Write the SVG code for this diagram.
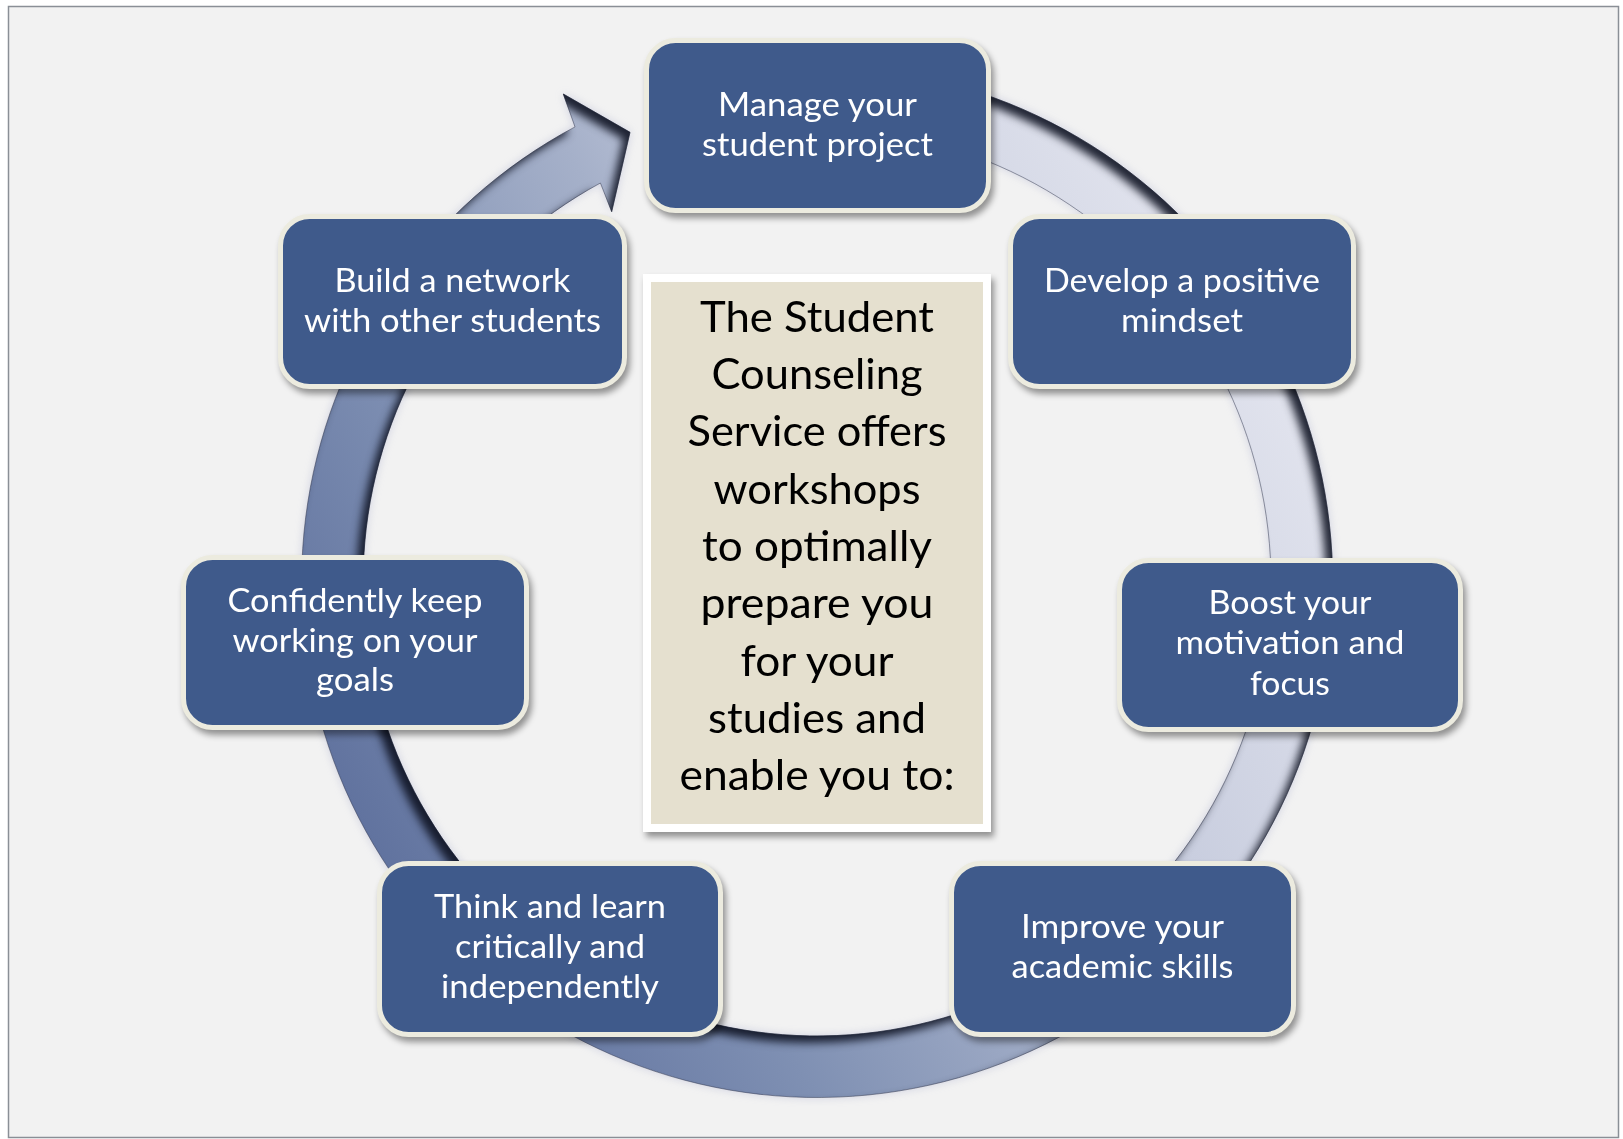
<svg xmlns="http://www.w3.org/2000/svg" width="1623" height="1139" viewBox="0 0 1623 1139">
<defs>
<style>
.node rect{fill:#3f5a8b;stroke:#ecebdf;stroke-width:5}
.lbl{font-family:Lato,"Open Sans","Liberation Sans",sans-serif;font-size:33px;fill:#ffffff;text-anchor:middle}
.ctr{font-family:Lato,"Open Sans","Liberation Sans",sans-serif;font-size:42px;fill:#000000;text-anchor:middle}
</style>
<linearGradient id="ringGrad" gradientUnits="userSpaceOnUse" x1="371" y1="840" x2="1263" y2="324">
<stop offset="0" stop-color="#61739f"/>
<stop offset="0.25" stop-color="#7f90b3"/>
<stop offset="0.5" stop-color="#a5b0c9"/>
<stop offset="0.68" stop-color="#c9cedf"/>
<stop offset="1" stop-color="#e2e4ee"/>
</linearGradient>
<filter id="ringFx" x="-10%" y="-10%" width="120%" height="120%" color-interpolation-filters="sRGB">
<feGaussianBlur in="SourceAlpha" stdDeviation="4" result="glowBlur"/>
<feFlood flood-color="#8c92c0" flood-opacity="0.35"/>
<feComposite in2="glowBlur" operator="in" result="glow"/>
<feOffset in="SourceAlpha" dx="-7" dy="7" result="off"/>
<feGaussianBlur in="off" stdDeviation="4" result="offBlur"/>
<feComposite in="SourceAlpha" in2="offBlur" operator="out" result="edge"/>
<feFlood flood-color="#0e1322" flood-opacity="0.9"/>
<feComposite in2="edge" operator="in" result="inner"/>
<feMerge><feMergeNode in="glow"/><feMergeNode in="SourceGraphic"/><feMergeNode in="inner"/></feMerge>
</filter>
<filter id="boxShadow" x="-10%" y="-10%" width="125%" height="130%" color-interpolation-filters="sRGB">
<feGaussianBlur in="SourceAlpha" stdDeviation="3"/>
<feOffset dx="3" dy="5" result="b"/>
<feFlood flood-color="#000000" flood-opacity="0.4"/>
<feComposite in2="b" operator="in"/>
<feMerge><feMergeNode/><feMergeNode in="SourceGraphic"/></feMerge>
</filter>
</defs>
<rect x="0" y="0" width="1623" height="1139" fill="#ffffff"/>
<rect x="8.5" y="6.5" width="1610" height="1131" fill="#f2f2f2" stroke="#8a8f96" stroke-width="1.5"/>

<g id="connectors">
<path filter="url(#ringFx)" fill="url(#ringGrad)" stroke="#2a3148" stroke-opacity="0.6" stroke-width="0.8" d="M 844.0 67.2 A 515.5 515.5 0 1 1 575.0 126.9 L 563.3 94 L 630 132.3 L 611.7 211.7 L 600.4 183.0 A 454 454 0 1 0 840.8 128.6 Z"/>
</g>

<g id="node-manage" class="node" filter="url(#boxShadow)">
<rect x="646.5" y="40.5" width="342" height="170" rx="29"/>
<text class="lbl" x="817.5" y="115.5" textLength="199" lengthAdjust="spacingAndGlyphs">Manage your</text>
<text class="lbl" x="817.5" y="155.5" textLength="231" lengthAdjust="spacingAndGlyphs">student project</text>
</g>

<g id="node-develop" class="node" filter="url(#boxShadow)">
<rect x="1010.5" y="216.5" width="343" height="170" rx="29"/>
<text class="lbl" x="1182" y="292" textLength="276" lengthAdjust="spacingAndGlyphs">Develop a positive</text>
<text class="lbl" x="1182" y="332" textLength="122" lengthAdjust="spacingAndGlyphs">mindset</text>
</g>

<g id="node-boost" class="node" filter="url(#boxShadow)">
<rect x="1119.5" y="560.5" width="341" height="169" rx="29"/>
<text class="lbl" x="1290" y="613.5" textLength="163" lengthAdjust="spacingAndGlyphs">Boost your</text>
<text class="lbl" x="1290" y="654" textLength="229" lengthAdjust="spacingAndGlyphs">motivation and</text>
<text class="lbl" x="1290" y="694.5" textLength="80" lengthAdjust="spacingAndGlyphs">focus</text>
</g>

<g id="node-improve" class="node" filter="url(#boxShadow)">
<rect x="951.5" y="863.5" width="342" height="171" rx="29"/>
<text class="lbl" x="1122.5" y="938" textLength="203" lengthAdjust="spacingAndGlyphs">Improve your</text>
<text class="lbl" x="1122.5" y="978" textLength="222" lengthAdjust="spacingAndGlyphs">academic skills</text>
</g>

<g id="node-think" class="node" filter="url(#boxShadow)">
<rect x="379.5" y="863.5" width="341" height="171" rx="29"/>
<text class="lbl" x="550" y="918" textLength="232" lengthAdjust="spacingAndGlyphs">Think and learn</text>
<text class="lbl" x="550" y="958" textLength="190" lengthAdjust="spacingAndGlyphs">critically and</text>
<text class="lbl" x="550" y="998" textLength="218" lengthAdjust="spacingAndGlyphs">independently</text>
</g>

<g id="node-confidently" class="node" filter="url(#boxShadow)">
<rect x="183.5" y="557.5" width="343" height="170" rx="29"/>
<text class="lbl" x="355" y="611.5" textLength="255" lengthAdjust="spacingAndGlyphs">Confidently keep</text>
<text class="lbl" x="355" y="651.5" textLength="245" lengthAdjust="spacingAndGlyphs">working on your</text>
<text class="lbl" x="355" y="691" textLength="78" lengthAdjust="spacingAndGlyphs">goals</text>
</g>

<g id="node-network" class="node" filter="url(#boxShadow)">
<rect x="280.5" y="216.5" width="344" height="170" rx="29"/>
<text class="lbl" x="452.5" y="292" textLength="236" lengthAdjust="spacingAndGlyphs">Build a network</text>
<text class="lbl" x="452.5" y="332" textLength="297" lengthAdjust="spacingAndGlyphs">with other students</text>
</g>

<g id="node-center" filter="url(#boxShadow)">
<rect x="643" y="274" width="348" height="558" fill="#ffffff"/>
<rect x="651" y="282" width="332" height="542" fill="#e5e0cf"/>
<text class="ctr" x="817" y="331.7" textLength="234" lengthAdjust="spacingAndGlyphs">The Student</text>
<text class="ctr" x="817" y="389" textLength="211" lengthAdjust="spacingAndGlyphs">Counseling</text>
<text class="ctr" x="817" y="446.3" textLength="259" lengthAdjust="spacingAndGlyphs">Service offers</text>
<text class="ctr" x="817" y="503.6" textLength="207" lengthAdjust="spacingAndGlyphs">workshops</text>
<text class="ctr" x="817" y="561" textLength="230" lengthAdjust="spacingAndGlyphs">to optimally</text>
<text class="ctr" x="817" y="618.3" textLength="233" lengthAdjust="spacingAndGlyphs">prepare you</text>
<text class="ctr" x="817" y="675.6" textLength="153" lengthAdjust="spacingAndGlyphs">for your</text>
<text class="ctr" x="817" y="733" textLength="218" lengthAdjust="spacingAndGlyphs">studies and</text>
<text class="ctr" x="817" y="790" textLength="275" lengthAdjust="spacingAndGlyphs">enable you to:</text>
</g>
</svg>
